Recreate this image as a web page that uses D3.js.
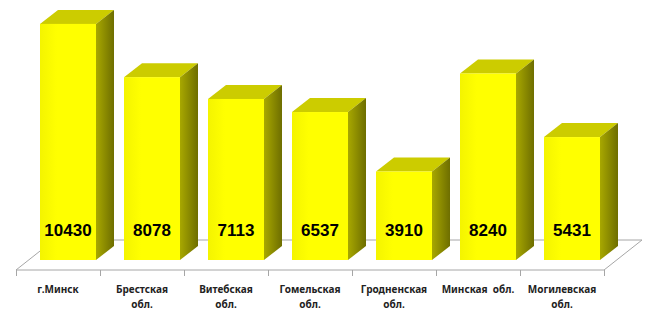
<!DOCTYPE html>
<html>
<head>
<meta charset="utf-8">
<script src="https://cdn.jsdelivr.net/npm/d3@7"></script>
<style>
    body { margin: 0; background: #fff; }
    svg { display: block; }
</style>
</head>
<body>
<svg id="chart"></svg>
<script>
// категории (перенос строки через \n)
const categories = ["г.Минск", "Брестская\nобл.", "Витебская\nобл.", "Гомельская\nобл.",
    "Гродненская\nобл.", "Минская  обл.", "Могилевская\nобл."]
const values = [10430, 8078, 7113, 6537, 3910, 8240, 5431]

const svgWidth = 650
const svgHeight = 320

// 3D смещения (глубина пола и глубина столбика)
const floorDx = 38, floorDy = -30
const barDx = 18, barDy = -14

const svg = d3.select("#chart")
    .attr("width", svgWidth)
    .attr("height", svgHeight)

const x = d3.scaleBand()
    .domain(categories)
    .range([16, 604])
    .padding(0)

const y = d3.scaleLinear()
    .domain([0, 11000])
    .range([260, 11])

const floorY = 270
const bw = x.bandwidth()
const barW = bw * 2 / 3
const barOff = bw * 24 / 84

// градиенты
const defs = svg.append("defs")
const sideGrad = defs.append("linearGradient").attr("id", "side")
    .attr("x1", "0").attr("x2", "1").attr("y1", "0").attr("y2", "0")
sideGrad.append("stop").attr("offset", "0").attr("stop-color", "#a8a800")
sideGrad.append("stop").attr("offset", "1").attr("stop-color", "#6e6e00")

const frontGrad = defs.append("linearGradient").attr("id", "front")
    .attr("x1", "0").attr("x2", "1").attr("y1", "0").attr("y2", "0")
frontGrad.append("stop").attr("offset", "0").attr("stop-color", "#f4f400")
frontGrad.append("stop").attr("offset", "0.3").attr("stop-color", "#ffff00")
frontGrad.append("stop").attr("offset", "1").attr("stop-color", "#ffff00")

// пол
const x0 = x.range()[0], x1 = x.range()[1]
const floorG = svg.append("g")
    .attr("stroke", "#a6a6a6")
    .attr("stroke-width", 1)
    .attr("fill", "none")

floorG.append("path")
    .attr("d", `M${x0},${floorY}L${x0 + floorDx},${floorY + floorDy}L${x1 + floorDx},${floorY + floorDy}L${x1},${floorY}Z`)
    .attr("fill", "#fff")

// деления оси категорий
const tickPos = categories.map(c => x(c)).concat([x1])
floorG.selectAll("line.tick")
    .data(tickPos)
    .enter()
    .append("line")
    .attr("x1", d => d + 0.5)
    .attr("x2", d => d + 0.5)
    .attr("y1", floorY)
    .attr("y2", floorY + 6)

// столбики
const bars = svg.selectAll("g.bar")
    .data(values)
    .enter()
    .append("g")
    .attr("class", "bar")

function barLeft(i) { return x(categories[i]) + barOff }

bars.append("path") // верх
    .attr("d", (d, i) => {
        const l = barLeft(i), t = y(d)
        return `M${l},${t}L${l + barDx},${t + barDy}L${l + barW + barDx},${t + barDy}L${l + barW},${t}Z`
    })
    .attr("fill", "#cccc00")

bars.append("path") // боковая грань
    .attr("d", (d, i) => {
        const r = barLeft(i) + barW, t = y(d), b = y(0)
        return `M${r},${t}L${r + barDx},${t + barDy}L${r + barDx},${b + barDy}L${r},${b}Z`
    })
    .attr("fill", "url(#side)")

bars.append("rect") // передняя грань
    .attr("x", (d, i) => barLeft(i))
    .attr("y", d => y(d))
    .attr("width", barW)
    .attr("height", d => y(0) - y(d))
    .attr("fill", "url(#front)")

// значения
bars.append("text")
    .attr("x", (d, i) => barLeft(i) + barW / 2)
    .attr("y", y(0) - 24)
    .attr("text-anchor", "middle")
    .style("font-family", "'Liberation Sans', Arial, sans-serif")
    .style("font-weight", "bold")
    .style("font-size", "17px")
    .attr("fill", "#000")
    .text(d => d)

// подписи категорий
const labels = svg.selectAll("text.cat")
    .data(categories)
    .enter()
    .append("text")
    .attr("class", "cat")
    .attr("text-anchor", "middle")
    .style("font-family", "'Noto Sans', sans-serif")
    .style("font-weight", "bold")
    .style("font-size", "10px")
    .attr("fill", "#222")

labels.selectAll("tspan")
    .data(d => d.split("\n").map(t => ({ t: t, c: d })))
    .enter()
    .append("tspan")
    .attr("x", d => x(d.c) + bw / 2)
    .attr("y", (d, i) => 293 + i * 15)
    .style("white-space", "pre")
    .text(d => d.t)
</script>
</body>
</html>
